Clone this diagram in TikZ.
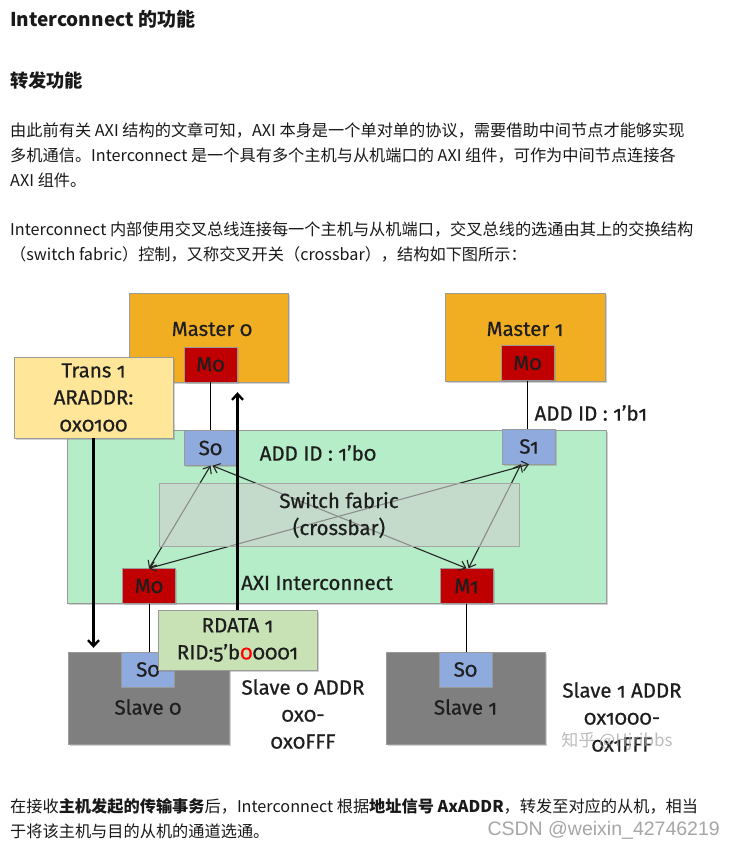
\documentclass[tikz,border=0pt]{standalone}
\usepackage{fontspec}
\setmainfont{Noto Sans CJK SC}
\newfontfamily\diagfont[Numbers=OldStyle, FakeBold=0.6]{Fira Sans}
\newfontfamily\wmfont{Liberation Sans}
\usetikzlibrary{shadows,arrows.meta}
\definecolor{morange}{HTML}{F2AE22}
\definecolor{mred}{HTML}{C00000}
\definecolor{mblue}{HTML}{8FAADC}
\definecolor{mgreen}{HTML}{B4EDC7}
\definecolor{myellow}{HTML}{FFE699}
\definecolor{rgreen}{HTML}{C8E2B6}
\definecolor{sgray}{HTML}{7F7F7F}
\definecolor{swgray}{HTML}{D0D0D0}
\definecolor{txt}{HTML}{1E1E1E}
\tikzset{
  box/.style={draw=black!40, line width=0.4pt, inner sep=0pt,
    drop shadow={shadow xshift=1.6pt,shadow yshift=-1.6pt,opacity=0.35}},
  port/.style={box, minimum width=53pt, minimum height=35pt},
  dfont/.style={font=\diagfont\fontsize{20.5}{27}\selectfont, text=txt},
  body/.style={anchor=west, inner sep=0pt, font=\fontsize{16.2}{18}\selectfont, text=black!90},
  xbar/.style={line width=1.1pt, color=black!85, {Straight Barb[length=6pt,width=10pt]}-{Straight Barb[length=6pt,width=10pt]}},
  thickarrow/.style={line width=2.3pt, color=black, -{Straight Barb[length=6pt,width=11pt]}},
  plainline/.style={line width=1pt, color=black}
}
\begin{document}
\begin{tikzpicture}[x=1pt,y=-1pt]
\useasboundingbox (0,0) rectangle (733,848);
\fill[white] (0,0) rectangle (733,848);

% ---------- text above ----------
\node[body, font=\bfseries\fontsize{19}{22}\selectfont] (h1) at (10,19) {Interconnect 的功能};
\node[body, font=\bfseries\fontsize{18.2}{20}\selectfont] (h2) at (10,81) {转发功能};
\node[body] (p1) at (10,130) {由此前有关 AXI 结构的文章可知，AXI 本身是一个单对单的协议，需要借助中间节点才能够实现};
\node[body] (p2) at (10,155) {多机通信。Interconnect 是一个具有多个主机与从机端口的 AXI 组件，可作为中间节点连接各};
\node[body] (p3) at (10,180) {AXI 组件。};
\node[body] (p4) at (10,229) {Interconnect 内部使用交叉总线连接每一个主机与从机端口，交叉总线的选通由其上的交换结构};
\node[body] (p5) at (10,254) {（switch fabric）控制，又称交叉开关（crossbar），结构如下图所示：};

% ---------- interconnect ----------
\node[box, fill=mgreen, minimum width=539pt, minimum height=173pt] (ic) at (336.5,516.5) {};

\node[port, fill=mblue] (s0) at (210.5,448) {};
\node[port, fill=mblue] (s1) at (529,446.5) {};
\node[port, fill=mred] (im0) at (149,586) {};
\node[port, fill=mred] (im1) at (466.5,586) {};

\draw[xbar] (s0.south) -- (im0.north);
\draw[xbar] ([xshift=2pt]s0.south) -- (im1.north);
\draw[xbar] (im0.north) -- (s1.south);
\draw[xbar] ([xshift=-8pt]s1.south) -- ([xshift=2pt]im1.north);

\node[draw=black!35, line width=0.4pt, fill=swgray, fill opacity=0.6, minimum width=360pt, minimum height=63pt] (sw) at (339,514.5) {};
\node[dfont, align=center, inner sep=0pt] (swl) at (339,515) {Switch fabric\\(crossbar)};

\node[dfont] at (s0) {S0};
\node[dfont] at (s1) {S1};
\node[dfont] at (im0) {M0};
\node[dfont] at (im1) {M1};
\node[dfont] (addid0) at (318,453) {ADD ID : 1’b0};
\node[dfont] (axil) at (317,583) {AXI Interconnect};

% ---------- masters ----------
\node[box, fill=morange, minimum width=159pt, minimum height=89pt] (mas0) at (208.5,337.5) {};
\node[dfont] (mas0l) at (212,329) {Master 0};
\node[port, fill=mred] (mp0) at (210.5,364.5) {};
\node[dfont] at (mp0) {M0};

\node[box, fill=morange, minimum width=160pt, minimum height=88pt] (mas1) at (525,337) {};
\node[dfont] (mas1l) at (525,329) {Master 1};
\node[port, fill=mred] (mp1) at (527.5,363) {};
\node[dfont] at (mp1) {M0};
\node[dfont, anchor=west] (addid1) at (531,413) {ADD ID : 1’b1};

\draw[plainline] (mp0.south) -- (mp0.south |- s0.north);
\draw[plainline] (mp1.south) -- (mp1.south |- s1.north);

% ---------- trans 1 ----------
\node[box, fill=myellow, minimum width=159pt, minimum height=81pt, dfont, align=center] (trans) at (93.5,397.5) {Trans 1\\ARADDR:\\0x0100};

% ---------- slaves ----------
\node[box, fill=sgray, minimum width=161pt, minimum height=92pt] (sl0) at (148.5,698) {};
\node[port, fill=mblue] (ss0) at (148,669.5) {};
\node[dfont] at (ss0) {S0};
\node[dfont] (sl0l) at (148,707) {Slave 0};

\node[box, fill=sgray, minimum width=159pt, minimum height=92pt] (sl1) at (465.5,698) {};
\node[port, fill=mblue] (ss1) at (465.5,669.5) {};
\node[dfont] at (ss1) {S0};
\node[dfont] (sl1l) at (465.5,707) {Slave 1};

\draw[plainline] (im0.south) -- (im0.south |- ss0.north);
\draw[plainline] (im1.south) -- (im1.south |- ss1.north);

\draw[thickarrow] (trans.south) -- ([yshift=4pt]trans.south |- sl0.north);

% ---------- rdata ----------
\node[box, fill=rgreen, minimum width=159pt, minimum height=60pt, dfont, align=center] (rd) at (237.5,640) {RDATA 1\\RID:5’b\textcolor{red}{0}0001};
\draw[thickarrow] (rd.north) -- ([yshift=-10pt]rd.north |- mp0.south);

\node[dfont, align=center] (a0) at (303,714) {Slave 0 ADDR\\0x0-\\0x0FFF};
\node[dfont, align=center] (a1) at (622,717) {Slave 1 ADDR\\0x1000-\\0x1FFF};

\node[font=\fontsize{17}{20}\selectfont, text=gray!70, opacity=0.75] (zh) at (617,741) {知乎 @Hjribbs};

% ---------- text below ----------
\node[body] (p6) at (10,806) {在接收\textbf{主机发起的传输事务}后，Interconnect 根据\textbf{地址信号 AxADDR}，转发至对应的从机，相当};
\node[body] (p7) at (10,831) {于将该主机与目的从机的通道选通。};
\node[anchor=east, inner sep=0pt, font=\wmfont\fontsize{19.5}{22}\selectfont, text=black!35] (csdn) at (720,830) {CSDN @weixin\_42746219};
\end{tikzpicture}
\end{document}
